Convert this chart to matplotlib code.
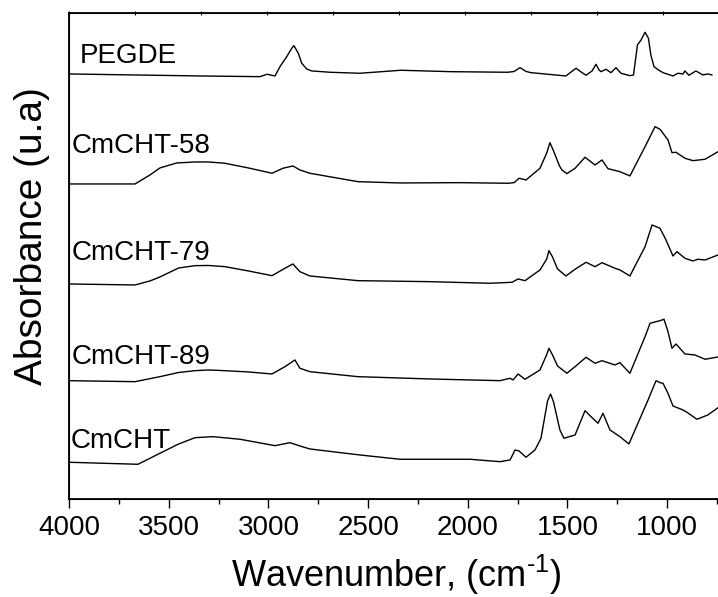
import numpy as np
import matplotlib
matplotlib.use("Agg")
import matplotlib.pyplot as plt

plt.rcParams["font.family"] = ["Liberation Sans", "DejaVu Sans"]
plt.rcParams["mathtext.fontset"] = "custom"
plt.rcParams["mathtext.rm"] = "Liberation Sans"
plt.rcParams["mathtext.default"] = "regular"

# FTIR spectra (wavenumber cm-1, offset absorbance a.u.)
wn_pegde = [4000, 3343, 3042, 3007, 2967, 2942, 2908, 2883, 2872, 2850, 2833, 2808, 2783,
            2691, 2541, 2335, 2089, 1798, 1768, 1738, 1708, 1683, 1508, 1482, 1457, 1432,
            1407, 1377, 1357, 1342, 1332, 1307, 1282, 1257, 1232, 1187, 1169, 1149, 1133,
            1111, 1094, 1082, 1066, 1044, 1021, 971, 946, 921, 911, 891, 856, 821, 796, 776]
ab_pegde = [4.25, 4.23, 4.223, 4.247, 4.23, 4.323, 4.423, 4.507, 4.533, 4.457, 4.357, 4.30, 4.28,
            4.267, 4.257, 4.287, 4.273, 4.267, 4.275, 4.313, 4.275, 4.263, 4.23, 4.27, 4.307, 4.27,
            4.237, 4.28, 4.347, 4.29, 4.273, 4.297, 4.263, 4.313, 4.257, 4.233, 4.24, 4.543, 4.583,
            4.667, 4.607, 4.44, 4.323, 4.29, 4.263, 4.23, 4.257, 4.25, 4.28, 4.237, 4.28, 4.24, 4.25, 4.24]

wn_58 = [4000, 3669, 3594, 3544, 3460, 3368, 3300, 3218, 3100, 2982, 2927, 2877, 2842, 2792,
         2551, 2340, 2039, 1798, 1768, 1743, 1708, 1638, 1604, 1588, 1570, 1540, 1528, 1503,
         1462, 1412, 1362, 1327, 1297, 1237, 1187, 1111, 1061, 1036, 996, 976, 956, 911, 871,
         810, 745]
ab_58 = [3.15, 3.15, 3.24, 3.31, 3.36, 3.37, 3.37, 3.357, 3.31, 3.257, 3.307, 3.33, 3.29, 3.257,
         3.173, 3.16, 3.163, 3.157, 3.163, 3.207, 3.19, 3.307, 3.46, 3.563, 3.48, 3.33, 3.29, 3.253,
         3.307, 3.417, 3.34, 3.39, 3.303, 3.273, 3.23, 3.523, 3.723, 3.697, 3.59, 3.463, 3.467,
         3.407, 3.383, 3.397, 3.473]

wn_79 = [4000, 3669, 3594, 3544, 3450, 3368, 3300, 3218, 3100, 2982, 2917, 2877, 2842, 2792,
         2551, 2190, 1889, 1778, 1748, 1713, 1638, 1604, 1593, 1575, 1550, 1508, 1462, 1407,
         1362, 1347, 1327, 1262, 1237, 1187, 1111, 1076, 1036, 1006, 971, 951, 911, 871, 846,
         810, 745]
ab_79 = [2.15, 2.14, 2.18, 2.22, 2.31, 2.333, 2.335, 2.323, 2.28, 2.233, 2.307, 2.35, 2.273,
         2.23, 2.183, 2.173, 2.157, 2.167, 2.2, 2.183, 2.29, 2.40, 2.483, 2.42, 2.30, 2.23, 2.297,
         2.367, 2.323, 2.34, 2.363, 2.307, 2.29, 2.23, 2.523, 2.74, 2.707, 2.59, 2.43, 2.473,
         2.407, 2.38, 2.397, 2.39, 2.44]

wn_89 = [4000, 3669, 3544, 3450, 3368, 3300, 3218, 3100, 2982, 2917, 2867, 2842, 2792, 2551,
         2190, 1839, 1788, 1773, 1748, 1713, 1638, 1605, 1593, 1575, 1550, 1503, 1462, 1407,
         1362, 1327, 1262, 1237, 1187, 1111, 1086, 1036, 1016, 996, 976, 956, 911, 861, 810, 745]
ab_89 = [1.183, 1.173, 1.223, 1.265, 1.283, 1.29, 1.283, 1.27, 1.25, 1.323, 1.39, 1.307, 1.273,
         1.223, 1.2, 1.183, 1.207, 1.19, 1.25, 1.197, 1.29, 1.44, 1.507, 1.44, 1.33, 1.257, 1.323,
         1.417, 1.357, 1.383, 1.34, 1.363, 1.257, 1.623, 1.757, 1.783, 1.797, 1.673, 1.507, 1.55,
         1.45, 1.44, 1.397, 1.42]

wn_cm = [4000, 3654, 3544, 3450, 3368, 3278, 3142, 2967, 2892, 2842, 2792, 2541, 2340, 1989,
         1839, 1788, 1763, 1743, 1708, 1663, 1633, 1600, 1585, 1570, 1538, 1518, 1462, 1412,
         1382, 1347, 1322, 1287, 1237, 1192, 1136, 1096, 1056, 1036, 1021, 996, 971, 921, 901,
         851, 796, 745]
ab_cm = [0.367, 0.347, 0.457, 0.55, 0.613, 0.623, 0.597, 0.533, 0.563, 0.53, 0.50, 0.44, 0.397,
         0.397, 0.373, 0.39, 0.49, 0.48, 0.417, 0.49, 0.607, 0.98, 1.05, 0.97, 0.69, 0.607, 0.64,
         0.883, 0.823, 0.757, 0.857, 0.69, 0.623, 0.55, 0.807, 0.99, 1.183, 1.163, 1.157, 1.057,
         0.93, 0.89, 0.867, 0.797, 0.84, 0.913]

names = ["PEGDE", "CmCHT-58", "CmCHT-79", "CmCHT-89", "CmCHT"]
label_x = [3945, 3985, 3986, 3985, 3991]
label_y = [4.357, 3.463, 2.39, 1.35, 0.513]

fig = plt.figure(figsize=(7.18, 5.97), dpi=100)
ax = fig.add_axes([0.0961, 0.1642, 0.9109, 0.8141])

for wn, ab in [(wn_pegde, ab_pegde), (wn_58, ab_58), (wn_79, ab_79),
               (wn_89, ab_89), (wn_cm, ab_cm)]:
    ax.plot(wn, ab, color="black", lw=1.0, solid_joinstyle="round")

for name, lx, ly in zip(names, label_x, label_y):
    ax.text(lx, ly, name, fontsize=20, ha="left", va="baseline")

ax.set_xlim(4000, 720)
ax.set_ylim(0, 4.86)
ax.set_xticks([4000, 3500, 3000, 2500, 2000, 1500, 1000])
ax.set_xticks(np.arange(3750, 700, -500), minor=True)
ax.set_yticks([])
ax.tick_params(axis="x", which="major", direction="out", length=6.5, width=1.0,
               labelsize=20, pad=5)
ax.tick_params(axis="x", which="minor", direction="out", length=3.6, width=1.0)
for s in ax.spines.values():
    s.set_linewidth(1.3)

# top axis: short unlabeled ticks
top = ax.twiny()
top.set_xlim(ax.get_xlim())
top.set_xticks(np.arange(4000, 700, -331))
top.tick_params(axis="x", direction="inout", length=3, width=0.8, labeltop=False)

fig.text(0.044, 1 - 236 / 597, "Absorbance (u.a)", rotation=90, fontsize=28,
         ha="center", va="center")
fig.text(396 / 718, 0.016, r"Wavenumber, (cm$^{\text{-}1}$)", fontsize=26,
         ha="center", va="baseline")

fig.savefig("out.png", dpi=100)
